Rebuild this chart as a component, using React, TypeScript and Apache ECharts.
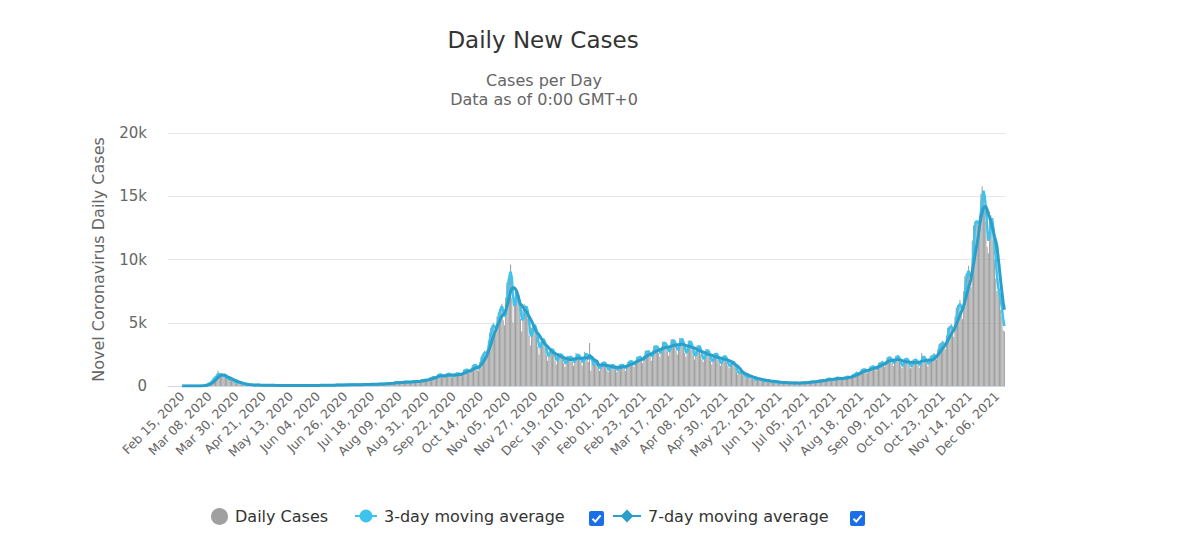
import React, { useEffect, useRef } from "react";
import * as echarts from "echarts";

// ---- categories (one per day) ----
const MONTHS = ["Jan", "Feb", "Mar", "Apr", "May", "Jun", "Jul", "Aug", "Sep", "Oct", "Nov", "Dec"];
const START_DATE_UTC = Date.UTC(2020, 1, 4); // first category (Feb 04, 2020)
const FIRST_LABEL_INDEX = 11; // Feb 15, 2020
const LABEL_EVERY = 22; // days between tick labels

// ---- daily new cases, in thousands ----
// 11 blank days, then one row per week starting Sat Feb 15, 2020
const dailyCasesK: (number | null)[] = [
  null, null, null, null, null, null, null, null, null, null, null,
  0, 0, 0, 0, 0, 0, 0,
  0, 0, 0, 0.002, 0.001, 0.003, 0.004,
  0.01, 0.015, 0.02, 0.04, 0.06, 0.1, 0.15,
  0.2, 0.25, 0.3, 0.45, 0.6, 0.7, 0.8,
  0.85, 1.2, 0.75, 0.85, 0.9, 0.8, 0.75,
  0.7, 0.55, 0.45, 0.6, 0.55, 0.45, 0.4,
  0.35, 0.28, 0.22, 0.3, 0.28, 0.22, 0.18,
  0.15, 0.1, 0.08, 0.12, 0.12, 0.1, 0.09,
  0.08, 0.06, 0.05, 0.08, 0.09, 0.08, 0.07,
  0.06, 0.05, 0.04, 0.06, 0.07, 0.06, 0.06,
  0.05, 0.04, 0.03, 0.05, 0.06, 0.06, 0.05,
  0.05, 0.04, 0.03, 0.05, 0.06, 0.05, 0.05,
  0.04, 0.04, 0.03, 0.05, 0.05, 0.05, 0.04,
  0.05, 0.04, 0.03, 0.05, 0.06, 0.05, 0.05,
  0.04, 0.03, 0.03, 0.04, 0.05, 0.05, 0.04,
  0.05, 0.04, 0.03, 0.05, 0.06, 0.06, 0.05,
  0.06, 0.05, 0.04, 0.06, 0.07, 0.07, 0.06,
  0.07, 0.06, 0.05, 0.07, 0.08, 0.08, 0.08,
  0.09, 0.07, 0.06, 0.09, 0.1, 0.1, 0.09,
  0.1, 0.08, 0.07, 0.1, 0.12, 0.11, 0.1,
  0.11, 0.09, 0.08, 0.11, 0.13, 0.12, 0.11,
  0.13, 0.11, 0.1, 0.13, 0.15, 0.15, 0.14,
  0.15, 0.13, 0.11, 0.15, 0.17, 0.17, 0.16,
  0.18, 0.15, 0.13, 0.18, 0.21, 0.21, 0.2,
  0.25, 0.21, 0.19, 0.25, 0.29, 0.29, 0.28,
  0.3, 0.26, 0.22, 0.3, 0.35, 0.35, 0.33,
  0.33, 0.28, 0.25, 0.33, 0.38, 0.38, 0.36,
  0.4, 0.34, 0.3, 0.4, 0.46, 0.46, 0.44,
  0.55, 0.47, 0.41, 0.55, 0.63, 0.63, 0.6,
  0.8, 0.68, 0.6, 0.8, 0.92, 0.92, 0.88,
  0.85, 0.72, 0.64, 0.85, 0.98, 0.98, 0.94,
  0.88, 0.75, 0.66, 0.88, 1.01, 1.01, 0.97,
  1.0, 0.85, 0.8, 1.1, 1.3, 1.3, 1.25,
  1.3, 1.1, 1.0, 1.4, 1.65, 1.7, 1.6,
  1.6, 1.3, 1.2, 1.9, 2.3, 2.5, 2.6,
  2.8, 2.4, 2.8, 3.6, 4.2, 4.6, 4.8,
  5.0, 4.4, 4.2, 5.5, 5.8, 6.1, 6.3,
  6.5, 5.2, 4.8, 7.0, 8.2, 8.5, 9.0,
  9.6, 7.0, 5.0, 7.0, 7.5, 7.2, 6.8,
  6.5, 5.3, 4.3, 6.0, 6.5, 6.3, 6.0,
  5.3, 4.0, 3.2, 4.6, 5.0, 4.8, 4.5,
  3.9, 3.1, 2.5, 3.5, 3.8, 3.7, 3.5,
  3.0, 2.4, 2.0, 2.7, 3.0, 2.9, 2.8,
  2.6, 2.0, 1.7, 2.4, 2.6, 2.5, 2.4,
  2.3, 1.8, 1.5, 2.1, 2.4, 2.3, 2.2,
  2.4, 1.9, 1.6, 2.2, 2.6, 2.5, 2.3,
  2.3, 1.9, 1.6, 2.3, 2.7, 2.6, 2.2,
  1.9, 3.4, 1.2, 1.8, 2.0, 1.9, 1.8,
  1.7, 1.4, 1.2, 1.7, 1.9, 1.9, 1.8,
  1.6, 1.3, 1.1, 1.5, 1.7, 1.7, 1.6,
  1.5, 1.3, 1.1, 1.5, 1.7, 1.7, 1.6,
  1.7, 1.4, 1.2, 1.7, 1.9, 2.0, 1.9,
  2.0, 1.7, 1.5, 2.0, 2.3, 2.3, 2.2,
  2.4, 2.0, 1.8, 2.4, 2.8, 2.8, 2.6,
  2.8, 2.3, 2.0, 2.8, 3.2, 3.2, 3.0,
  3.1, 2.6, 2.3, 3.0, 3.5, 3.5, 3.3,
  3.2, 2.7, 2.4, 3.2, 3.7, 3.7, 3.5,
  3.4, 2.8, 2.5, 3.3, 3.8, 3.8, 3.6,
  3.1, 2.6, 2.3, 3.1, 3.6, 3.6, 3.4,
  2.8, 2.4, 2.1, 2.8, 3.2, 3.2, 3.1,
  2.5, 2.1, 1.9, 2.5, 2.9, 2.9, 2.7,
  2.3, 2.0, 1.7, 2.3, 2.6, 2.6, 2.5,
  2.1, 1.8, 1.6, 2.1, 2.4, 2.4, 2.3,
  1.9, 1.6, 1.4, 1.8, 2.0, 1.9, 1.8,
  1.4, 1.1, 0.9, 1.1, 1.2, 1.1, 1.0,
  0.85, 0.7, 0.6, 0.8, 0.85, 0.8, 0.75,
  0.6, 0.5, 0.45, 0.55, 0.6, 0.58, 0.55,
  0.46, 0.38, 0.33, 0.44, 0.48, 0.46, 0.43,
  0.35, 0.29, 0.25, 0.34, 0.37, 0.36, 0.34,
  0.28, 0.23, 0.2, 0.28, 0.31, 0.31, 0.29,
  0.24, 0.2, 0.18, 0.24, 0.27, 0.27, 0.26,
  0.24, 0.2, 0.18, 0.24, 0.28, 0.28, 0.27,
  0.3, 0.25, 0.22, 0.3, 0.35, 0.35, 0.33,
  0.38, 0.32, 0.28, 0.38, 0.44, 0.44, 0.42,
  0.5, 0.42, 0.37, 0.5, 0.58, 0.58, 0.55,
  0.57, 0.48, 0.43, 0.57, 0.66, 0.66, 0.63,
  0.62, 0.53, 0.46, 0.62, 0.71, 0.71, 0.68,
  0.8, 0.68, 0.6, 0.8, 0.92, 0.92, 0.88,
  1.15, 0.98, 0.86, 1.15, 1.32, 1.32, 1.27,
  1.35, 1.15, 1.0, 1.35, 1.55, 1.55, 1.5,
  1.6, 1.36, 1.2, 1.6, 1.84, 1.84, 1.76,
  2.0, 1.7, 1.5, 2.0, 2.3, 2.3, 2.2,
  2.1, 1.8, 1.6, 2.1, 2.4, 2.4, 2.3,
  1.9, 1.6, 1.4, 1.9, 2.2, 2.2, 2.1,
  1.85, 1.55, 1.4, 1.85, 2.1, 2.1, 2.05,
  1.95, 1.65, 1.45, 1.95, 2.6, 2.25, 2.15,
  2.05, 1.75, 1.55, 2.1, 2.4, 2.4, 2.3,
  2.6, 2.3, 2.1, 2.9, 3.3, 3.4, 3.3,
  3.6, 3.1, 2.9, 4.0, 4.6, 4.7, 4.6,
  4.9, 4.2, 3.9, 5.5, 6.2, 6.4, 6.3,
  6.8, 5.8, 5.3, 7.5, 8.7, 8.9, 8.9,
  9.5, 8.0, 7.8, 11.5, 12.7, 13.0, 13.1,
  13.0, 12.5, 13.5, 15.2, 15.8, 15.3, 14.0,
  13.0, 11.0, 10.5, 13.8, 13.5, 12.5, 11.5,
  10.0, 8.5, 7.5, 7.5, 7.0, 6.0, 5.5,
  4.4, 4.3,
];

// ---- y-axis ticks (thousands) ----
const Y_MIN = 0;
const Y_MAX = 20;
const Y_STEP = 5;

// ---- legend names ----
const SERIES_NAMES = ["Daily Cases", "3-day moving average", "7-day moving average"];

const categories = dailyCasesK.map((_, i) => {
  const d = new Date(START_DATE_UTC + i * 86400000);
  return `${MONTHS[d.getUTCMonth()]} ${String(d.getUTCDate()).padStart(2, "0")}, ${d.getUTCFullYear()}`;
});

// trailing moving average of the daily values (what the chart's lines are)
function trailingAverage(values: (number | null)[], n: number): (number | null)[] {
  return values.map((v, i) => {
    if (v == null) return null;
    let s = 0;
    let c = 0;
    for (let j = i - n + 1; j <= i; j++) {
      if (j >= 0 && values[j] != null) {
        s += values[j] as number;
        c++;
      }
    }
    return c ? Math.round((s / c) * 1000) / 1000 : null;
  });
}

const ma3 = trailingAverage(dailyCasesK, 3);
const ma7 = trailingAverage(dailyCasesK, 7);

const FONT = "DejaVu Sans";
const C3 = "#3dc3ec";
const C7 = "#2b9fca";

function checkbox(x: number, y: number) {
  return {
    type: "group",
    x,
    y,
    silent: true,
    children: [
      { type: "rect", shape: { x: 0, y: 0, width: 15, height: 15, r: 2 }, style: { fill: "#1b6fe6" } },
      {
        type: "polyline",
        shape: { points: [[3.5, 7.8], [6.3, 10.6], [11.6, 4.4]] },
        style: { stroke: "#ffffff", lineWidth: 2, fill: null },
      },
    ],
  };
}

export default function App() {
  const ref = useRef<HTMLDivElement>(null);
  useEffect(() => {
    if (!ref.current) return;
    const chart = echarts.init(ref.current, null, { renderer: "svg" });
    const legendText = { fontFamily: FONT, fontSize: 16, color: "#333", padding: [0, 0, 0, 2] };
    chart.setOption({
      animation: false,
      backgroundColor: "#fff",
      grid: { left: 168, right: 195, top: 133, bottom: 169, containLabel: false },
      graphic: [
        {
          type: "text",
          x: 543,
          y: 40,
          style: { text: "Daily New Cases", font: `23px '${FONT}'`, fill: "#333", align: "center", verticalAlign: "middle" },
        },
        {
          type: "text",
          x: 544,
          y: 80,
          style: { text: "Cases per Day", font: `16px '${FONT}'`, fill: "#666", align: "center", verticalAlign: "middle" },
        },
        {
          type: "text",
          x: 544,
          y: 99,
          style: { text: "Data as of 0:00 GMT+0", font: `16px '${FONT}'`, fill: "#666", align: "center", verticalAlign: "middle" },
        },
        checkbox(589, 511),
        checkbox(850, 511),
      ],
      legend: [
        {
          data: [{ name: SERIES_NAMES[0], icon: "circle" }],
          left: 211,
          top: 508,
          padding: 0,
          itemWidth: 17,
          itemHeight: 17,
          selectedMode: false,
          textStyle: legendText,
        },
        {
          data: [SERIES_NAMES[1]],
          left: 354,
          top: 508,
          padding: 0,
          itemWidth: 22,
          itemHeight: 16,
          selectedMode: false,
          textStyle: legendText,
        },
        {
          data: [SERIES_NAMES[2]],
          left: 612,
          top: 508,
          padding: 0,
          itemWidth: 28,
          itemHeight: 16,
          selectedMode: false,
          textStyle: legendText,
        },
      ],
      xAxis: {
        type: "category",
        data: categories,
        boundaryGap: true,
        axisLine: { lineStyle: { color: "#ccd6eb" } },
        axisTick: { show: false },
        splitLine: { show: false },
        axisLabel: {
          interval: (index: number) => index >= FIRST_LABEL_INDEX && (index - FIRST_LABEL_INDEX) % LABEL_EVERY === 0,
          rotate: 45,
          color: "#666",
          fontFamily: FONT,
          fontSize: 12.5,
          margin: 8,
        },
      },
      yAxis: {
        type: "value",
        min: Y_MIN,
        max: Y_MAX,
        interval: Y_STEP,
        name: "Novel Coronavirus Daily Cases",
        nameLocation: "middle",
        nameGap: 62,
        nameRotate: 90,
        nameTextStyle: { fontFamily: FONT, fontSize: 16, color: "#666" },
        axisLine: { show: false },
        axisTick: { show: false },
        splitLine: { lineStyle: { color: "#e6e6e6" } },
        axisLabel: {
          formatter: (v: number) => (v === 0 ? "0" : `${v}k`),
          color: "#666",
          fontFamily: FONT,
          fontSize: 15,
          margin: 21,
        },
      },
      series: [
        {
          name: SERIES_NAMES[0],
          type: "bar",
          data: dailyCasesK,
          barCategoryGap: "15%",
          itemStyle: { color: "#a0a0a0" },
          silent: true,
        },
        {
          name: SERIES_NAMES[1],
          type: "line",
          data: ma3,
          symbol: "circle",
          symbolSize: 9,
          showSymbol: false,
          lineStyle: { width: 2.5, color: C3 },
          itemStyle: { color: C3 },
          silent: true,
        },
        {
          name: SERIES_NAMES[2],
          type: "line",
          data: ma7,
          symbol: "diamond",
          symbolSize: 11,
          showSymbol: false,
          lineStyle: { width: 3, color: C7 },
          itemStyle: { color: C7 },
          silent: true,
        },
      ],
    });
    return () => chart.dispose();
  }, []);
  return (
    <div
      ref={ref}
      style={{ position: "fixed", left: 0, top: 0, width: 1200, height: 555, background: "#fff" }}
    />
  );
}
